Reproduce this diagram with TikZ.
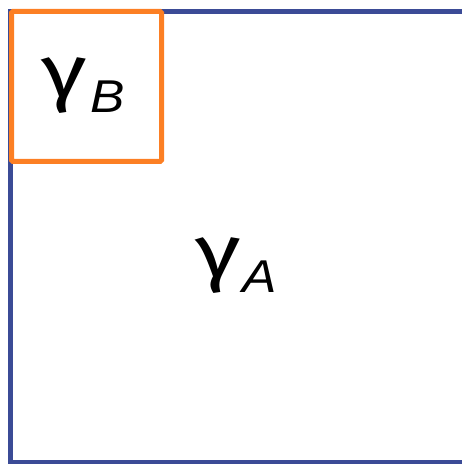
\documentclass[tikz,border=0pt]{standalone}
\usepackage{fontspec}
\setmainfont{Fira Sans}
\newfontfamily\subfont{Liberation Sans}
\definecolor{boxblue}{HTML}{3B4B96}
\definecolor{boxorange}{HTML}{FC7F24}
\tikzset{
  gam/.style={inner sep=0pt, xscale=1.28, font=\fontsize{74}{74}\selectfont},
  subs/.style={inner sep=0pt, xscale=1.12, font=\subfont\fontsize{46}{46}\selectfont\itshape},
}
\begin{document}
\begin{tikzpicture}[x=1pt,y=1pt]
\useasboundingbox (0,0) rectangle (462,464);
\clip (0,0) rectangle (462,464);
\draw[boxblue, line width=5pt] (10.5,1.5) rectangle (480,452.5);
\draw[boxorange, line width=5pt, rounded corners=1.5pt] (11.5,302.5) rectangle (161.5,452.5);
\node[gam, anchor=base west] (gB) at (41,366) {γ};
\node[subs, anchor=base west] (sB) at ([shift={(3,-15)}]gB.base east) {B};
\node[gam, anchor=base west] (gA) at (195,186) {γ};
\node[subs, anchor=base west] (sA) at ([shift={(1,-15)}]gA.base east) {A};
\end{tikzpicture}
\end{document}
